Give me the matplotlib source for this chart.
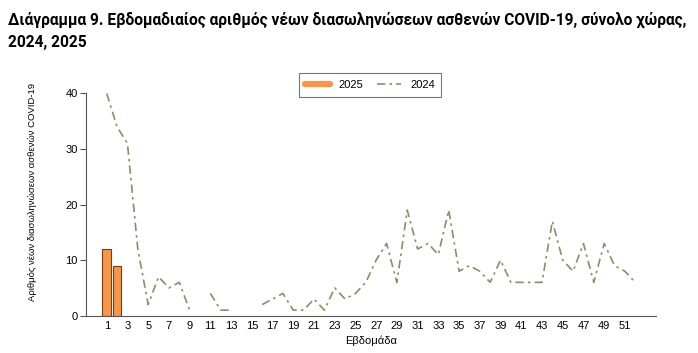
import matplotlib.pyplot as plt
from matplotlib.lines import Line2D
import numpy as np

# weekly data
weeks_2024 = np.arange(1, 53)
cases_2024 = [40, 34, 31, 12, 2, 7, 5, 6, 1, np.nan,
              4, 1, 1, np.nan, np.nan, 2, 3, 4, 1, 1,
              3, 1, 5, 3, 4, 6, 10, 13, 6, 19,
              12, 13, 11, 19, 8, 9, 8, 6, 10, 6,
              6, 6, 6, 17, 10, 8, 13, 6, 13, 9,
              8, 6]
weeks_2025 = [1, 2]
cases_2025 = [12, 9]
xticks = list(range(1, 52, 2))

title = ('Διάγραμμα 9. Εβδομαδιαίος αριθμός νέων διασωληνώσεων ασθενών COVID-19, σύνολο χώρας,\n'
         '2024, 2025')

plt.rcParams['font.family'] = ['Liberation Sans', 'DejaVu Sans']

fig = plt.figure(figsize=(6.98, 3.53), dpi=100)
ax = fig.add_axes([0.1232, 0.1057, 0.8166, 0.661])

ax.bar(weeks_2025, cases_2025, width=0.82, color='#F5964A', edgecolor='#7A3E12',
       linewidth=0.8, zorder=2)
ax.plot(weeks_2024, cases_2024, color='#8E8B68', linewidth=1.2,
        dashes=[5, 2.5, 1.5, 2.5], zorder=3, clip_on=False)

ax.set_xlim(-1, 54)
ax.set_ylim(0, 42)
ax.set_yticks([0, 10, 20, 30, 40])
ax.set_xticks(xticks)
ax.tick_params(axis='both', labelsize=8, color='#555555', length=4, width=0.8, pad=2)
ax.tick_params(axis='x', length=0, pad=4)
for s in ['top', 'right']:
    ax.spines[s].set_visible(False)
ax.spines['left'].set_bounds(0, 40)
ax.spines['left'].set_color('#555555')
ax.spines['bottom'].set_color('#555555')
ax.spines['left'].set_linewidth(0.8)
ax.spines['bottom'].set_linewidth(0.8)

ax.set_xlabel('Εβδομάδα', fontsize=8, labelpad=3)
fig.text(0.047, 0.456, 'Αριθμός νέων διασωληνώσεων ασθενών COVID-19', rotation=90,
         fontsize=6.8, ha='center', va='center')

handles = [Line2D([], [], color='#F5964A', linewidth=4.5, solid_capstyle='round'),
           Line2D([], [], color='#8E8B68', linewidth=1.2, dashes=[5, 2.5, 1.5, 2.5])]
leg = fig.legend(handles, ['2025', '2024'], loc='center', bbox_to_anchor=(0.530, 0.759),
                 ncol=2, fontsize=8, frameon=True, fancybox=False, edgecolor='#555555',
                 handlelength=2.2, handletextpad=0.8, columnspacing=1.2, borderpad=0.6)
leg.get_frame().set_linewidth(0.8)

fig.text(0.011, 0.968, title, fontsize=11.2, fontweight='bold', ha='left', va='top',
         family=['Roboto', 'DejaVu Sans'], linespacing=1.6)

fig.savefig('out.png', dpi=100)
